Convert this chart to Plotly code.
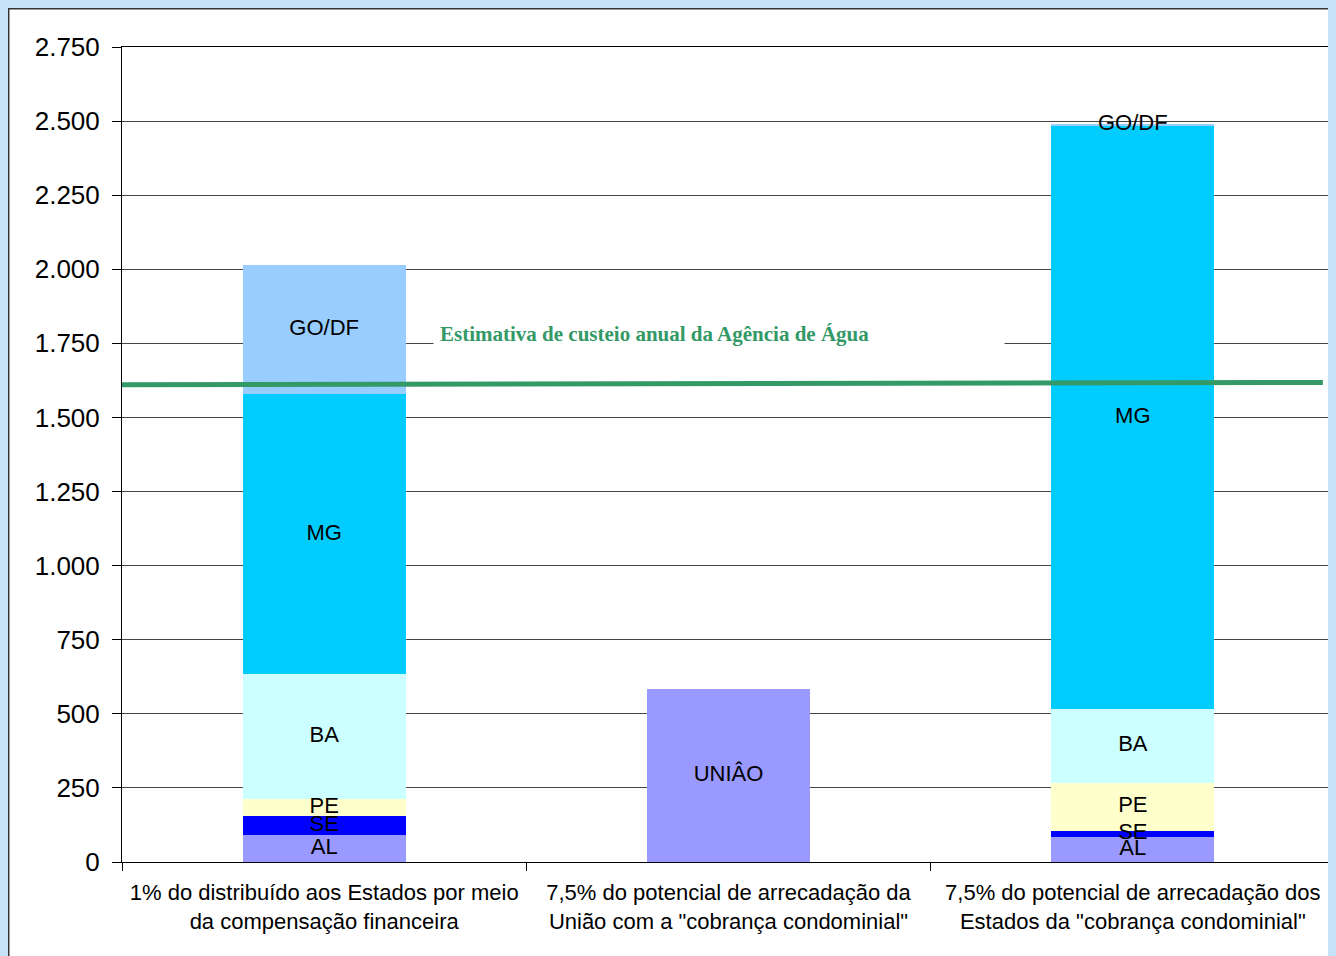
import plotly.graph_objects as go

# Categorias (eixo x)
categorias = [
    "1% do distribuído aos Estados por meio<br>da compensação financeira",
    "7,5% do potencial de arrecadação da<br>União com a \"cobrança condominial\"",
    "7,5% do potencial de arrecadação dos<br>Estados da \"cobrança condominial\"",
]

# Valores por estado
al = [91, None, 84]
se = [64, None, 21]
pe = [58, None, 162]
ba = [421, None, 249]
mg = [945, None, 1968]
go_df = [435, None, 6]
uniao = [None, 584, None]

# Estimativa de custeio anual da Agência de Água
custeio = [1610, 1618]

series = [
    ("UNIÂO", uniao, "#9999FF"),
    ("AL", al, "#9999FF"),
    ("SE", se, "#0000FF"),
    ("PE", pe, "#FFFFCC"),
    ("BA", ba, "#CCFFFF"),
    ("MG", mg, "#00CCFF"),
    ("GO/DF", go_df, "#99CCFF"),
]

fig = go.Figure()
for nome, vals, cor in series:
    fig.add_trace(go.Bar(
        x=categorias, y=vals, name=nome,
        marker_color=cor, marker_line_width=0,
        showlegend=False,
    ))

# rótulos dos segmentos por cima de todas as barras (centro de cada segmento)
base = [0, 0, 0]
lx, ly, lt = [], [], []
for nome, vals, cor in series:
    for i, v in enumerate(vals):
        if v is None:
            continue
        lx.append(categorias[i])
        ly.append(base[i] + v / 2)
        lt.append(nome)
        base[i] += v
fig.add_trace(go.Scatter(
    x=lx, y=ly, text=lt, mode="text", textposition="middle center",
    textfont=dict(family="Liberation Sans, Arial", size=22, color="black"),
    showlegend=False, hoverinfo="skip",
))

# linha verde da estimativa (do início do eixo até quase a borda direita)
fig.add_shape(type="line", xref="paper", yref="y",
              x0=0, x1=0.99, y0=custeio[0], y1=custeio[1],
              line=dict(color="#339966", width=5), layer="above")

fig.add_annotation(
    text="<b>Estimativa de custeio anual da Agência de Água</b>",
    xref="paper", yref="y", x=0.2564, y=1780,
    xanchor="left", yanchor="middle", showarrow=False,
    width=558, height=28, align="left", bgcolor="white", borderpad=6,
    font=dict(family="Liberation Serif, Times New Roman", size=21, color="#339966"),
)

# borda escura da figura
fig.add_shape(type="rect", xref="paper", yref="paper",
              x0=-0.094, x1=1.2, y0=1.0479, y1=-0.3,
              fillcolor="rgba(0,0,0,0)", line=dict(color="#333333", width=3), layer="below")

fig.update_layout(
    width=1328, height=948,
    margin=dict(l=114, r=1, t=39, b=94),
    paper_bgcolor="white",
    plot_bgcolor="white",
    barmode="stack",
    bargap=0.597,
    separators=",.",
    font=dict(family="Liberation Sans, Arial", color="black"),
)

fig.update_yaxes(
    range=[0, 2750], dtick=250, tickformat=",d", separatethousands=True,
    showgrid=True, gridcolor="#444444", gridwidth=1,
    ticks="outside", ticklen=9, tickcolor="black", ticklabelstandoff=7,
    showline=True, linecolor="black", linewidth=1, mirror=True,
    tickfont=dict(size=26), zeroline=False,
)
fig.update_xaxes(
    tickson="boundaries", ticks="outside", ticklen=8, tickcolor="black",
    ticklabelstandoff=11,
    showline=True, linecolor="black", linewidth=1, mirror=True,
    tickfont=dict(size=22), showgrid=False,
)

fig.write_html("out.html", post_script="document.body.style.background='#C6E3F7';")
